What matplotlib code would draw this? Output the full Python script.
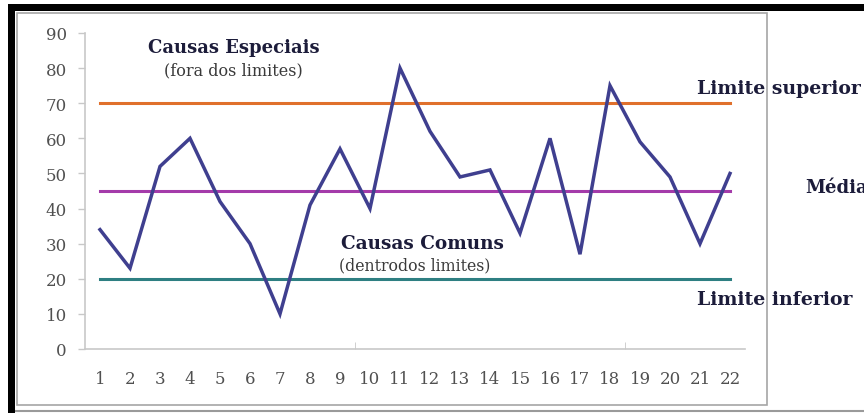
import matplotlib
matplotlib.use("Agg")
import matplotlib.pyplot as plt
from matplotlib.patches import Rectangle
from matplotlib.lines import Line2D

# Data
samples = list(range(1, 23))
values = [34, 23, 52, 60, 42, 30, 10, 41, 57, 40, 80, 62, 49, 51, 33, 60, 27, 75, 59, 49, 30, 50]
upper_limit = 70
mean_value = 45
lower_limit = 20
y_ticks = [0, 10, 20, 30, 40, 50, 60, 70, 80, 90]

W, H = 864, 414
fig = plt.figure(figsize=(W / 100, H / 100), dpi=100)
fig.patch.set_facecolor("white")

def fx(px):
    return px / W

def fy(py):
    return 1 - py / H

# Outer black frame (left and top) and bottom gray line
fig.patches.append(Rectangle((fx(8), fy(414)), fx(7), fy(5) - fy(414), transform=fig.transFigure,
                             facecolor="black", edgecolor="none", zorder=-2))
fig.patches.append(Rectangle((fx(8), fy(12)), fx(856), fy(5) - fy(12), transform=fig.transFigure,
                             facecolor="black", edgecolor="none", zorder=-2))
fig.lines.append(Line2D([fx(15), fx(864)], [fy(412), fy(412)], transform=fig.transFigure,
                        color="#9a9a9a", lw=1.5, zorder=-2))
# Chart box
fig.patches.append(Rectangle((fx(17), fy(406)), fx(767 - 17), fy(14) - fy(406), transform=fig.transFigure,
                             facecolor="white", edgecolor="#a6a6a6", lw=1.2, zorder=-1))

ax = fig.add_axes([fx(85), fy(350), fx(745 - 85), fy(34) - fy(350)])
ax.set_zorder(1)
ax.set_facecolor("none")

x_first, x_last = samples[0], samples[-1]
ax.plot([x_first, x_last], [upper_limit, upper_limit], color="#E0702C", lw=2.2, zorder=2)
ax.plot([x_first, x_last], [mean_value, mean_value], color="#A43BAA", lw=2.2, zorder=2)
ax.plot([x_first, x_last], [lower_limit, lower_limit], color="#2E7F82", lw=2.2, zorder=2)
ax.plot(samples, values, color="#3F3F8F", lw=2.5, zorder=3, solid_joinstyle="miter")

ax.set_xlim(0.5, 22.5)
ax.set_ylim(0, 90)
ax.set_yticks(y_ticks)
ax.set_xticks(samples)

serif = ["DejaVu Serif"]
for s in ["top", "right"]:
    ax.spines[s].set_visible(False)
for s in ["left", "bottom"]:
    ax.spines[s].set_color("#c8c8c8")
    ax.spines[s].set_linewidth(1.2)

ax.tick_params(axis="y", length=5, width=1, color="#c8c8c8", labelsize=12, labelcolor="#505050", pad=8)
ax.tick_params(axis="x", length=0, labelsize=12, labelcolor="#505050", pad=15)
for lab in ax.get_xticklabels() + ax.get_yticklabels():
    lab.set_fontfamily(serif)
ax.set_xticks([9.5, 18.5], minor=True)
ax.tick_params(axis="x", which="minor", length=5, direction="in", color="#c8c8c8")

txt = "#1c1c3a"
fig.text(fx(234), fy(48), "Causas Especiais", family=serif, fontweight="bold", fontsize=13,
         color=txt, ha="center", va="center")
fig.text(fx(233), fy(71), "(fora dos limites)", family=serif, fontsize=11.5,
         color="#3a3a3a", ha="center", va="center")
fig.text(fx(422), fy(244), "Causas Comuns", family=serif, fontweight="bold", fontsize=13.3,
         color=txt, ha="center", va="center")
fig.text(fx(415), fy(266), "(dentrodos limites)", family=serif, fontsize=11.3,
         color="#3a3a3a", ha="center", va="center")
fig.text(fx(697), fy(89), "Limite superior", family=serif, fontweight="bold", fontsize=13.6,
         color=txt, ha="left", va="center")
fig.text(fx(805), fy(188), "Média", family=serif, fontweight="bold", fontsize=13,
         color=txt, ha="left", va="center")
fig.text(fx(697), fy(300), "Limite inferior", family=serif, fontweight="bold", fontsize=13.6,
         color=txt, ha="left", va="center")

fig.savefig("out.png", dpi=100)
